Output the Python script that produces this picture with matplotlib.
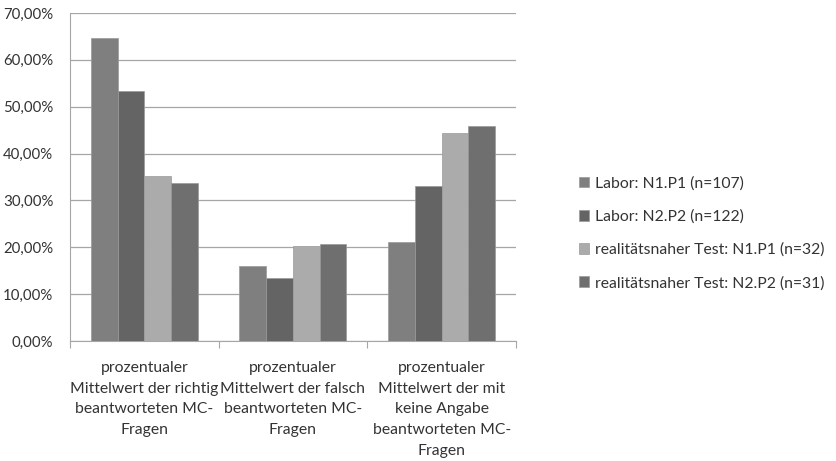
import matplotlib
matplotlib.use("Agg")
import matplotlib.pyplot as plt
import numpy as np
from matplotlib.ticker import FuncFormatter

categories = [
    "prozentualer\nMittelwert der richtig\nbeantworteten MC-\nFragen",
    "prozentualer\nMittelwert der falsch\nbeantworteten MC-\nFragen",
    "prozentualer\nMittelwert der mit\nkeine Angabe\nbeantworteten MC-\nFragen",
]
series_names = [
    "Labor: N1.P1 (n=107)",
    "Labor: N2.P2 (n=122)",
    "realitätsnaher Test: N1.P1 (n=32)",
    "realitätsnaher Test: N2.P2 (n=31)",
]
s1 = [64.6, 16.1, 21.2]
s2 = [53.3, 13.5, 33.1]
s3 = [35.3, 20.3, 44.4]
s4 = [33.7, 20.6, 45.8]
series = [s1, s2, s3, s4]
colors = ["#7f7f7f", "#646464", "#ababab", "#6f6f6f"]

plt.rcParams['font.family'] = ['Lato', 'DejaVu Sans']
fig = plt.figure(figsize=(8.36, 4.61), dpi=100)
ax = fig.add_axes([0.0837, 0.2603, 0.5335, 0.7115])

x = np.arange(len(categories))
w = 0.18
for i, (vals, c, name) in enumerate(zip(series, colors, series_names)):
    ax.bar(x + (i - 1.5) * w, vals, width=w, color=c, label=name,
           edgecolor="#9a9a9a", linewidth=0.5, zorder=3)

ax.set_xlim(-0.5, 2.5)
ax.set_ylim(0, 70)
ax.set_yticks(np.arange(0, 71, 10))
ax.yaxis.set_major_formatter(FuncFormatter(lambda v, p: f"{v:.2f}".replace(".", ",") + "%"))
ax.grid(axis='y', color="#a6a6a6", linewidth=0.9, zorder=0)
for s in ['top', 'right']:
    ax.spines[s].set_visible(False)
ax.spines['left'].set_color("#a6a6a6")
ax.spines['bottom'].set_color("#a6a6a6")
ax.tick_params(axis='y', length=0, labelsize=10.8, colors="#333333", pad=12)
ax.set_xticks([-0.5, 0.5, 1.5, 2.5])
ax.set_xticklabels([])
ax.tick_params(axis='x', length=5, color="#a6a6a6", direction='out')
for xi, lab in zip(x, categories):
    ax.text(xi, -4.3, lab, ha='center', va='top', fontsize=11.3, color="#333333",
            linespacing=1.6)

ax.legend(loc='upper left', bbox_to_anchor=(1.11, 0.545), frameon=False,
          fontsize=11.3, handlelength=0.65, handleheight=0.65, handletextpad=0.35,
          labelspacing=1.2, labelcolor="#333333")

fig.savefig("out.png", dpi=100)
